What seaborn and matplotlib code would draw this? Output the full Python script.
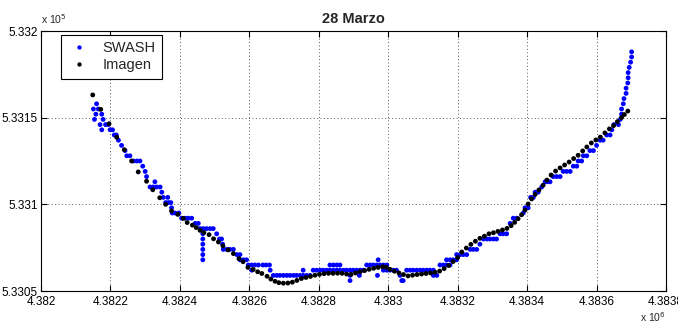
import matplotlib
matplotlib.use("Agg")
import matplotlib.pyplot as plt
from matplotlib.ticker import FuncFormatter, FixedLocator
import pandas as pd
import seaborn as sns

# Shoreline positions (easting, northing in metres)
swash_x = [
    4382160, 4382151, 4382165, 4382158, 4382175, 4382154, 4382179, 4382170, 4382186, 4382194,
    4382175, 4382199, 4382206, 4382211, 4382217, 4382223, 4382232, 4382242, 4382247, 4382256,
    4382266, 4382276, 4382285, 4382293, 4382300, 4382304, 4382328, 4382314, 4382323, 4382333,
    4382343, 4382348, 4382352, 4382365, 4382359, 4382367, 4382374, 4382376, 4382378, 4382386,
    4382397, 4382405, 4382415, 4382424, 4382434, 4382444, 4382453, 4382458, 4382467, 4382477,
    4382487, 4382496, 4382466, 4382466, 4382466, 4382466, 4382466, 4382466, 4382506, 4382514,
    4382520, 4382523, 4382525, 4382535, 4382544, 4382554, 4382564, 4382573, 4382573, 4382583,
    4382592, 4382597, 4382607, 4382616, 4382626, 4382639, 4382648, 4382658, 4382607, 4382660,
    4382669, 4382679, 4382688, 4382698, 4382708, 4382717, 4382727, 4382736, 4382746, 4382755,
    4382765, 4382775, 4382755, 4382784, 4382794, 4382804, 4382813, 4382823, 4382832, 4382842,
    4382852, 4382861, 4382871, 4382880, 4382832, 4382842, 4382852, 4382861, 4382890, 4382890,
    4382890, 4382899, 4382909, 4382919, 4382928, 4382917, 4382938, 4382948, 4382957, 4382967,
    4382976, 4382986, 4382996, 4382971, 4382969, 4382986, 4382996, 4383005, 4383015, 4383024,
    4383034, 4383039, 4383043, 4383053, 4383063, 4383072, 4383082, 4383092, 4383101, 4383111,
    4383120, 4383130, 4383130, 4383140, 4383149, 4383159, 4383168, 4383178, 4383168, 4383178,
    4383187, 4383197, 4383197, 4383207, 4383216, 4383226, 4383236, 4383245, 4383255, 4383264,
    4383274, 4383284, 4383293, 4383303, 4383312, 4383322, 4383331, 4383341, 4383351, 4383360,
    4383370, 4383389, 4383394, 4383403, 4383410, 4383418, 4383423, 4383432, 4383442, 4383452,
    4383458, 4383466, 4383475, 4383485, 4383495, 4383504, 4383514, 4383524, 4383533, 4383543,
    4383547, 4383557, 4383562, 4383572, 4383581, 4383591, 4383600, 4383610, 4383619, 4383629,
    4383639, 4383644, 4383650, 4383663, 4383668, 4383672, 4383672, 4383677, 4383679, 4383685,
    4383685, 4383690, 4383691, 4383691, 4383694, 4383698, 4383701, 4383701,
]
swash_y = [
    533158, 533155, 533155, 533152, 533152, 533149, 533149, 533146, 533146, 533146,
    533143, 533143, 533143, 533140, 533140, 533137, 533134, 533131, 533128, 533128,
    533125, 533125, 533125, 533122, 533119, 533116, 533113, 533110, 533110, 533110,
    533110, 533107, 533104, 533104, 533101, 533101, 533101, 533098, 533095, 533095,
    533095, 533092, 533092, 533092, 533092, 533089, 533089, 533086, 533086, 533086,
    533086, 533086, 533083, 533080, 533077, 533074, 533071, 533068, 533083, 533080,
    533080, 533077, 533074, 533074, 533074, 533074, 533071, 533071, 533068, 533068,
    533068, 533065, 533065, 533065, 533065, 533065, 533065, 533065, 533062, 533062,
    533059, 533059, 533059, 533059, 533059, 533059, 533059, 533059, 533059, 533059,
    533059, 533059, 533062, 533062, 533062, 533062, 533062, 533062, 533062, 533062,
    533062, 533062, 533062, 533062, 533065, 533065, 533065, 533065, 533059, 533056,
    533062, 533062, 533062, 533062, 533062, 533059, 533065, 533065, 533065, 533065,
    533065, 533065, 533065, 533068, 533059, 533062, 533062, 533062, 533062, 533062,
    533059, 533056, 533056, 533062, 533062, 533062, 533062, 533062, 533062, 533062,
    533062, 533062, 533059, 533059, 533065, 533065, 533065, 533065, 533068, 533068,
    533068, 533068, 533071, 533071, 533071, 533071, 533074, 533074, 533074, 533077,
    533080, 533080, 533080, 533080, 533080, 533083, 533083, 533083, 533089, 533092,
    533092, 533095, 533098, 533098, 533104, 533104, 533107, 533107, 533110, 533113,
    533113, 533113, 533116, 533116, 533116, 533119, 533119, 533119, 533122, 533122,
    533125, 533125, 533128, 533128, 533131, 533131, 533134, 533137, 533137, 533140,
    533140, 533143, 533146, 533146, 533149, 533152, 533155, 533158, 533161, 533164,
    533167, 533170, 533173, 533176, 533179, 533182, 533185, 533188,
]

imagen_x = [
    4382149, 4382172, 4382196, 4382218, 4382240, 4382261, 4382280, 4382304, 4382322, 4382342,
    4382359, 4382376, 4382394, 4382410, 4382421, 4382436, 4382447, 4382458, 4382469, 4382484,
    4382497, 4382511, 4382524, 4382539, 4382554, 4382570, 4382582, 4382596, 4382611, 4382624,
    4382636, 4382651, 4382662, 4382674, 4382685, 4382698, 4382711, 4382724, 4382737, 4382750,
    4382763, 4382776, 4382789, 4382802, 4382815, 4382828, 4382841, 4382854, 4382867, 4382880,
    4382893, 4382906, 4382919, 4382932, 4382945, 4382958, 4382971, 4382984, 4382994, 4383005,
    4383018, 4383031, 4383044, 4383057, 4383070, 4383083, 4383096, 4383109, 4383122, 4383135,
    4383148, 4383161, 4383174, 4383187, 4383200, 4383212, 4383225, 4383238, 4383251, 4383264,
    4383277, 4383290, 4383303, 4383316, 4383329, 4383342, 4383354, 4383364, 4383374, 4383384,
    4383394, 4383403, 4383413, 4383423, 4383434, 4383446, 4383457, 4383469, 4383482, 4383495,
    4383508, 4383521, 4383534, 4383547, 4383560, 4383572, 4383585, 4383598, 4383611, 4383624,
    4383637, 4383649, 4383660, 4383672, 4383680, 4383690,
]
imagen_y = [
    533163.1, 533154.8, 533146.5, 533138.7, 533131.5, 533125.0, 533118.7, 533113.3, 533108.4, 533103.8,
    533100.0, 533096.2, 533094.2, 533091.9, 533089.5, 533088.0, 533086.6, 533085.0, 533083.7, 533082.5,
    533080.1, 533078.3, 533076.0, 533073.7, 533071.6, 533068.7, 533066.9, 533063.6, 533062.4, 533061.1,
    533060.1, 533058.5, 533056.9, 533055.6, 533054.8, 533054.5, 533054.6, 533055.1, 533056.1, 533057.2,
    533057.8, 533058.4, 533059.1, 533059.6, 533060.0, 533060.2, 533060.2, 533060.3, 533060.2, 533059.8,
    533059.6, 533060.4, 533061.1, 533061.8, 533062.5, 533063.1, 533063.6, 533064.0, 533063.7, 533062.5,
    533061.4, 533060.4, 533059.5, 533058.7, 533059.1, 533059.5, 533059.8, 533060.1, 533060.4, 533060.8,
    533061.5, 533062.9, 533064.7, 533067.0, 533069.3, 533072.5, 533074.8, 533076.9, 533078.7, 533080.4,
    533081.6, 533083.0, 533083.6, 533084.4, 533085.2, 533086.1, 533087.7, 533089.6, 533091.7, 533094.0,
    533096.7, 533100.2, 533103.1, 533105.7, 533108.3, 533111.0, 533114.0, 533116.9, 533119.2, 533121.0,
    533122.7, 533124.4, 533126.4, 533128.3, 533130.8, 533133.1, 533135.4, 533137.1, 533138.8, 533141.2,
    533143.5, 533145.4, 533147.7, 533150.1, 533151.8, 533153.8,
]

series_names = ["SWASH", "Imagen"]
series_colors = ["#0000ff", "#000000"]
x_ticks = [4382000, 4382200, 4382400, 4382600, 4382800,
           4383000, 4383200, 4383400, 4383600, 4383800]
y_ticks = [533050, 533100, 533150, 533200]
title = "28 Marzo"

df = pd.concat([
    pd.DataFrame({"x": swash_x, "y": swash_y, "serie": series_names[0]}),
    pd.DataFrame({"x": imagen_x, "y": imagen_y, "serie": series_names[1]}),
], ignore_index=True)

sns.set_style("ticks")
plt.rcParams["font.family"] = ["Liberation Sans", "DejaVu Sans"]

fig = plt.figure(figsize=(6.78, 3.23), dpi=100)
ax = fig.add_axes([41 / 678, 32 / 323, 625 / 678, 260 / 323])

sns.scatterplot(data=df, x="x", y="y", hue="serie", hue_order=series_names,
                palette=dict(zip(series_names, series_colors)),
                marker="o", s=12, linewidth=0, ax=ax, legend=True)

ax.set_xlim(x_ticks[0], x_ticks[-1])
ax.set_ylim(y_ticks[0], y_ticks[-1])
ax.xaxis.set_major_locator(FixedLocator(x_ticks))
ax.yaxis.set_major_locator(FixedLocator(y_ticks))
ax.xaxis.set_major_formatter(FuncFormatter(lambda v, p: f"{v / 1e6:g}"))
ax.yaxis.set_major_formatter(FuncFormatter(lambda v, p: f"{v / 1e5:g}"))
ax.set_xlabel("")
ax.set_ylabel("")

ax.tick_params(direction="in", top=True, right=True, length=4.5, width=0.8,
               labelsize=8.5, colors="black")
ax.tick_params(axis="x", pad=3.5)
ax.tick_params(axis="y", pad=2.5)
for sp in ax.spines.values():
    sp.set_visible(True)
    sp.set_color("black")
    sp.set_linewidth(0.8)
ax.grid(True, color="0.35", linestyle=(0, (1, 2.5)), linewidth=0.7)
ax.set_axisbelow(True)

ax.set_title(title, fontsize=10.5, fontweight="bold", pad=6)
ax.text(0.0, 1.02, r"x 10$^5$", transform=ax.transAxes, fontsize=7.5,
        ha="left", va="bottom")
ax.text(1.0, -0.075, r"x 10$^6$", transform=ax.transAxes, fontsize=7.5,
        ha="right", va="top")

handles, labels = ax.get_legend_handles_labels()
leg = ax.legend(handles, labels, loc="upper left", bbox_to_anchor=(0.032, 0.985),
                borderaxespad=0, fontsize=10.5, frameon=True, fancybox=False,
                framealpha=1, edgecolor="black", borderpad=0.45,
                handletextpad=0.8, labelspacing=0.2, handlelength=1.6,
                markerscale=0.9)
leg.get_frame().set_linewidth(0.8)

fig.savefig("out.png", dpi=100, facecolor="white")
